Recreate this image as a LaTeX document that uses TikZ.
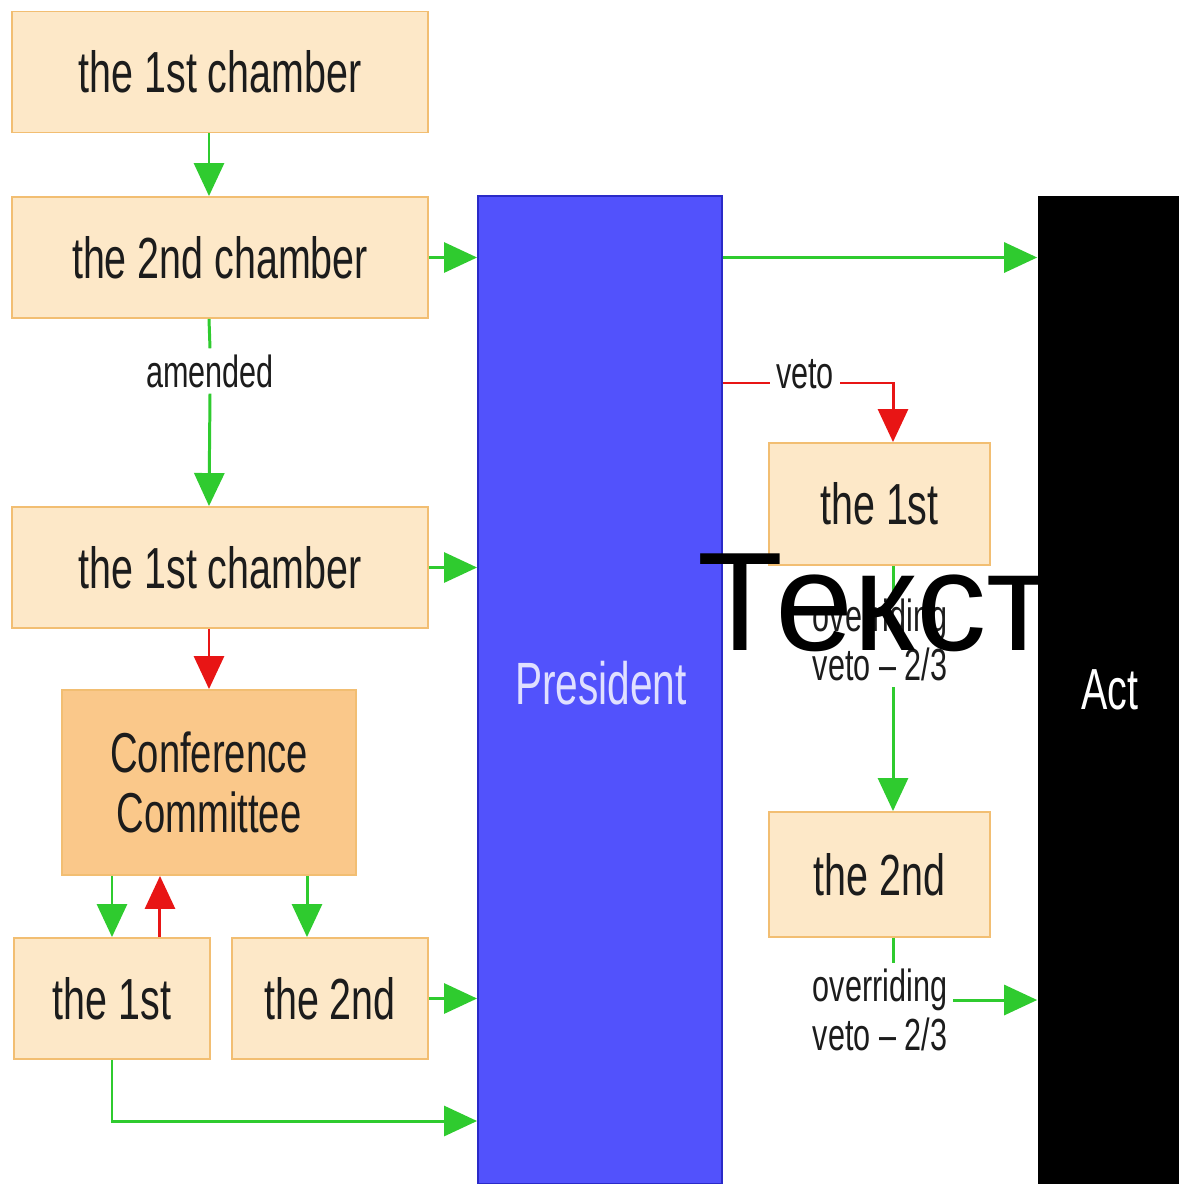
\documentclass[tikz,border=0pt]{standalone}
\usepackage{fontspec}
\setmainfont[FakeStretch=0.68]{Liberation Sans}
\newfontfamily\widefont{Liberation Sans}
\usetikzlibrary{arrows.meta}

\definecolor{boxfill}{HTML}{FDE8C8}
\definecolor{boxline}{HTML}{F2BE72}
\definecolor{ccfill}{HTML}{FAC88A}
\definecolor{gogreen}{HTML}{2FCB2F}
\definecolor{stopred}{HTML}{E81515}
\definecolor{presblue}{HTML}{5252FC}
\definecolor{presline}{HTML}{2A2AC8}
\definecolor{ink}{HTML}{1C1C1C}

\tikzset{
  gline/.style={draw=gogreen,line width=1.7pt},
  rline/.style={draw=stopred,line width=1.7pt},
  garrow/.style={gline,-{Triangle[width=0.6cm,length=0.66cm]}},
  rarrow/.style={rline,-{Triangle[width=0.6cm,length=0.66cm]}},
  chamber/.style={draw=boxline,line width=1.1pt,fill=boxfill,text=ink,inner sep=0pt,
    font=\fontsize{33}{36}\selectfont},
  remark/.style={text=ink,font=\fontsize{25.6}{28}\selectfont,align=center}
}

\begin{document}
\begin{tikzpicture}[x=0.02cm,y=-0.02cm]

      \useasboundingbox[fill=white] (0,0) rectangle (1179,1184);

      \begin{scope}[every node/.style={chamber}]
        \node[minimum width=8.32cm,minimum height=2.42cm] (c1) at (220,72)    {the 1st chamber};
        \node[minimum width=8.32cm,minimum height=2.42cm] (c2) at (220,257.5) {the 2nd chamber};
        \node[minimum width=8.32cm,minimum height=2.42cm] (c3) at (220,567.5) {the 1st chamber};
        \node[minimum width=5.88cm,minimum height=3.7cm,fill=ccfill,align=center,
              font=\fontsize{32}{34}\selectfont] (cc) at (209,782.5) {Conference\\Committee};
        \node[minimum width=3.92cm,minimum height=2.42cm] (b1) at (112,998.5) {the 1st};
        \node[minimum width=3.92cm,minimum height=2.42cm] (b2) at (330,998.5) {the 2nd};
        \node[minimum width=4.42cm,minimum height=2.44cm] (r1) at (879.5,504) {the 1st};
        \node[minimum width=4.42cm,minimum height=2.5cm]  (r2) at (879.5,874.5) {the 2nd};
      \end{scope}

      \node[draw=presline,line width=1.1pt,fill=presblue,
            minimum width=4.88cm,minimum height=19.76cm,inner sep=0pt] (pres) at (600,690) {};
      \node[text=white!88!blue,font=\fontsize{34}{38}\selectfont] (prestext) at (601,683) {President};
      \node[fill=black,text=white,minimum width=2.9cm,minimum height=19.76cm,inner sep=0pt,
            font=\fontsize{33}{36}\selectfont] (act) at (1110,690) {Act};

      \begin{scope}[every node/.style={remark}]
        \node (amended) at (210,371) {amended};
        \node (veto)    at (805,374) {veto};
        \node (ov1)     at (880,640) {overriding\\veto -- 2/3};
        \node (ov2)     at (880,1010) {overriding\\veto -- 2/3};
      \end{scope}

      \coordinate (rcol) at (893,0);

      % left column
      \draw[garrow] (c1.south -| cc) -- (c2.north -| cc);
      \draw[gline]  (c2.south -| cc) -- (amended.north);
      \draw[garrow] (amended.south) -- (c3.north -| cc);
      \draw[rarrow] (c3.south -| cc) -- (cc.north);
      \draw[garrow] (cc.south -| b1) -- (b1.north);
      \draw[rarrow] ([xshift=0.96cm]b1.north) -- ([xshift=0.96cm]b1.north |- cc.south);
      \draw[garrow] ([xshift=-0.46cm]b2.north |- cc.south) -- ([xshift=-0.46cm]b2.north);

      % into the president
      \draw[garrow] (c2.east) -- (c2.east -| pres.west);
      \draw[garrow] (c3.east) -- (c3.east -| pres.west);
      \draw[garrow] (b2.east) -- (b2.east -| pres.west);
      \draw[garrow] (b1.south) |- (pres.west |- 0,1121);

      % right side
      \draw[garrow] (c2.east -| pres.east) -- (c2.east -| act.west);
      \draw[rline]  ([yshift=-0.18cm]veto.west -| pres.east) -- ([yshift=-0.18cm]veto.west);
      \draw[rarrow] ([yshift=-0.18cm]veto.east) -| (r1.north -| rcol);
      \draw[gline]  (r1.south -| rcol) -- (ov1.north -| rcol);
      \draw[garrow] (ov1.south -| rcol) -- (r2.north -| rcol);
      \draw[gline]  (r2.south -| rcol) -- (ov2.north -| rcol);
      \draw[garrow] ([yshift=0.2cm]ov2.east) -- ([yshift=0.2cm]ov2.east -| act.west);

      \node[anchor=base west,inner sep=0pt,text=black,
            font=\widefont\fontsize{80}{90}\selectfont] (stamp) at (697,650) {Текст};

    \end{tikzpicture}
\end{document}
